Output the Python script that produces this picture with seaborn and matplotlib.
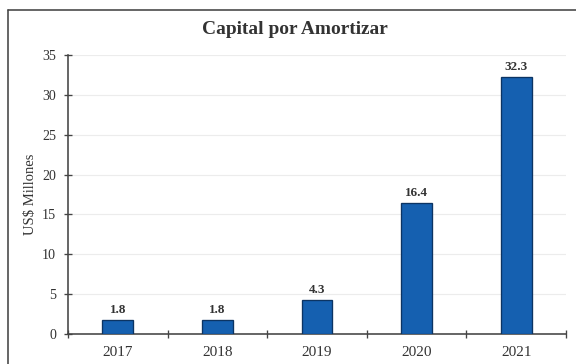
import matplotlib
matplotlib.use("Agg")
import matplotlib.pyplot as plt
import seaborn as sns
import pandas as pd
from matplotlib.lines import Line2D

years = ["2017", "2018", "2019", "2020", "2021"]
values = [1.8, 1.8, 4.3, 16.4, 32.3]
labels = ["1.8", "1.8", "4.3", "16.4", "32.3"]
title = "Capital por Amortizar"
ylabel = "US$ Millones"

sns.set_style("white")
plt.rcParams["font.family"] = ["Liberation Serif", "DejaVu Serif"]

df = pd.DataFrame({"year": years, "value": values})

fig = plt.figure(figsize=(6, 364 / 96), dpi=96)
ax = fig.add_axes([68 / 576, 1 - 334 / 364, 498 / 576, (334 - 55) / 364])

sns.barplot(data=df, x="year", y="value", ax=ax, color="#1560b0", saturation=1,
            width=0.31, edgecolor="#0c3463", linewidth=1.0, zorder=3)

for i, (v, lab) in enumerate(zip(values, labels)):
    ax.text(i, v + 0.5, lab, ha="center", va="bottom", fontsize=9.8,
            fontweight="bold", color="#333333")

ax.set_ylim(0, 35)
ax.set_xlim(-0.5, 4.5)
ax.set_yticks(range(0, 36, 5))
ax.yaxis.grid(True, color="#ececec", linewidth=0.9, zorder=0)
ax.set_xlabel("")
ax.set_ylabel(ylabel, fontsize=11, color="#333333", labelpad=4)

for s in ["top", "right"]:
    ax.spines[s].set_visible(False)
ax.spines["left"].set_color("#444444")
ax.spines["bottom"].set_color("#444444")
ax.spines["left"].set_linewidth(1.2)
ax.spines["bottom"].set_linewidth(1.2)

ax.tick_params(axis="y", which="major", direction="inout", length=6, width=1,
               color="#444444", labelsize=10.5, labelcolor="#333333", pad=6, left=True)
ax.tick_params(axis="x", which="major", length=0, labelsize=11.4,
               labelcolor="#333333", pad=9)
# category boundary ticks on x axis
ax.set_xticks([-0.5, 0.5, 1.5, 2.5, 3.5, 4.5], minor=True)
ax.tick_params(axis="x", which="minor", direction="inout", length=6, width=1,
               color="#444444", bottom=True)

fig.suptitle(title, x=295 / 576, y=1 - 30 / 364, va="center",
             fontsize=14.5, fontweight="bold", color="#333333")

# outer frame (scanned chart border)
fig.add_artist(Line2D([8 / 576, 8 / 576], [0, 1 - 10 / 364],
                      transform=fig.transFigure, color="#444444", linewidth=1.2))
fig.add_artist(Line2D([8 / 576, 1], [1 - 10 / 364, 1 - 10 / 364],
                      transform=fig.transFigure, color="#444444", linewidth=1.2))

fig.savefig("out.png", dpi=96)
